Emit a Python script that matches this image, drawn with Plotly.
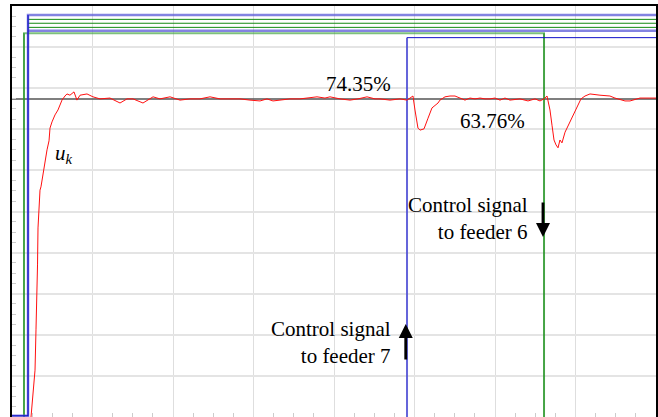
import plotly.graph_objects as go

# ---- data (time axis 0..800, signal axis 0..100) ----
t_u = [23.6, 24.8, 26.1, 27.3, 28.6, 29.8, 31.1, 31.7, 32.3, 33.5, 34.8, 36.0, 38.5, 41.0, 43.5,
       46.0, 47.2, 49.7, 53.4, 57.1, 59.6, 62.1, 65.8, 68.3, 72.0, 77.0, 80.7, 84.5, 93.2, 100.6,
       109.3, 121.7, 134.2, 142.9, 150.3, 162.7, 175.2, 183.8, 196.3, 208.7, 221.1, 233.5, 246.0,
       258.4, 270.8, 283.2, 295.6, 308.1, 316.8, 324.2, 332.9, 345.3, 357.8, 370.2, 378.9, 388.8,
       395.0, 407.4, 419.9, 429.8, 441.0, 450.9, 457.1, 469.6, 482.0, 490.7, 494.4, 498.1, 500.6,
       504.3, 506.8, 511.8, 516.8, 521.7, 529.2, 531.6, 537.9, 544.1, 550.3, 556.5, 562.7, 568.9,
       575.2, 581.4, 587.6, 593.8, 600.0, 606.2, 612.4, 618.6, 631.0, 641.0, 649.7, 655.9, 660.9,
       664.6, 668.3, 670.8, 673.3, 675.8, 678.3, 680.7, 683.2, 687.0, 693.2, 699.4, 703.1, 706.8,
       711.8, 718.0, 730.4, 742.8, 749.0, 761.5, 767.7, 780.1, 792.5, 800.0]
u_k = [0.0, 2.9, 5.4, 7.5, 11.4, 21.2, 28.5, 37.0, 46.0, 51.6, 55.2, 56.0, 58.9, 62.5, 65.0,
       67.2, 70.3, 71.8, 73.5, 74.7, 75.7, 77.1, 78.1, 78.6, 78.3, 79.1, 77.1, 78.3, 78.6, 77.9,
       77.4, 77.6, 76.4, 77.4, 77.4, 76.4, 77.9, 77.4, 77.9, 77.1, 77.4, 77.4, 77.9,
       77.4, 77.4, 77.4, 77.1, 76.9, 77.4, 76.9, 77.1, 77.4, 77.4, 77.6, 77.9, 77.6,
       77.9, 77.4, 77.1, 77.4, 77.9, 77.4, 77.4, 77.1, 77.4, 77.1, 77.6, 78.1, 74.7,
       70.3, 69.8, 70.1, 72.7, 75.2, 76.4, 77.1, 77.9, 78.1, 78.1, 77.6, 77.1, 77.6,
       77.4, 77.6, 77.4, 77.4, 77.6, 77.1, 77.6, 77.1, 77.4, 76.9, 77.4, 76.9, 77.4,
       78.1, 74.7, 71.0, 67.4, 66.2, 65.5, 67.4, 66.7, 69.3, 71.8, 74.7, 76.2, 77.4,
       78.1, 78.6, 78.3, 78.1, 77.6, 76.9, 76.9, 77.6, 77.6, 77.6]
setpoint = 77.4

# step signals of the feeders: (time, level) pairs
feeder_a_t = [0, 19.9, 19.9, 800]
feeder_a_y = [0.3, 0.3, 97.8, 97.8]
feeder_b_t = [19.9, 800]
feeder_b_y = [96.75, 96.75]
feeder_c_t = [19.9, 800]
feeder_c_y = [95.8, 95.8]
feeder_d_t = [19.9, 800]
feeder_d_y = [94.8, 94.8]
feeder_e_t = [19.9, 800]
feeder_e_y = [94.0, 94.0]
feeder6_t = [14.9, 14.9, 660.9, 660.9]
feeder6_y = [0, 93.4, 93.4, 0]
feeder7_t = [490.7, 490.7, 800]
feeder7_y = [0, 92.3, 92.3]

LB = "rgba(90,90,215,0.75)"
DB = "#1010c8"
DG = "#138a13"
LG = "rgba(70,165,70,0.7)"

fig = go.Figure()
fig.add_trace(go.Scatter(x=[0, 800], y=[setpoint, setpoint], mode="lines",
                         line=dict(color="#555555", width=1.5)))
fig.add_trace(go.Scatter(x=feeder6_t, y=feeder6_y, mode="lines", line=dict(color=LG, width=2)))
fig.add_trace(go.Scatter(x=feeder6_t[:2], y=feeder6_y[:2], mode="lines", line=dict(color=DG, width=1)))
fig.add_trace(go.Scatter(x=feeder6_t[2:], y=feeder6_y[2:], mode="lines", line=dict(color=DG, width=1)))
fig.add_trace(go.Scatter(x=feeder_b_t, y=feeder_b_y, mode="lines", line=dict(color=DG, width=1)))
fig.add_trace(go.Scatter(x=feeder_c_t, y=feeder_c_y, mode="lines", line=dict(color=DG, width=1)))
fig.add_trace(go.Scatter(x=feeder_d_t, y=feeder_d_y, mode="lines", line=dict(color=DG, width=1)))
fig.add_trace(go.Scatter(x=feeder_e_t, y=feeder_e_y, mode="lines", line=dict(color=LB, width=2.5)))
fig.add_trace(go.Scatter(x=feeder_a_t, y=feeder_a_y, mode="lines", line=dict(color=LB, width=2.5)))
fig.add_trace(go.Scatter(x=feeder_a_t[:3], y=feeder_a_y[:3], mode="lines", line=dict(color=DB, width=1.2)))
fig.add_trace(go.Scatter(x=feeder7_t, y=feeder7_y, mode="lines", line=dict(color=DB, width=1)))
fig.add_trace(go.Scatter(x=feeder7_t[:2], y=feeder7_y[:2], mode="lines", line=dict(color=LB, width=2)))
fig.add_trace(go.Scatter(x=t_u, y=u_k, mode="lines", line=dict(color="#ff1010", width=1)))

font = dict(family="Times New Roman, Liberation Serif, serif", size=21, color="black")
ann = [
    dict(x=431, y=81.0, text="74.35%", showarrow=False, font=font, xanchor="center", yanchor="middle"),
    dict(x=596.3, y=72.0, text="63.76%", showarrow=False, font=font, xanchor="center", yanchor="middle"),
    dict(x=64.6, y=64.0, text="<i>u</i><sub><i>k</i></sub>", showarrow=False, font=font,
         xanchor="center", yanchor="middle"),
    dict(x=643.5, y=48.4, text="Control signal<br>to feeder 6", showarrow=False, font=font,
         xanchor="right", yanchor="middle", align="right"),
    dict(x=473.3, y=18.2, text="Control signal<br>to feeder 7", showarrow=False, font=font,
         xanchor="right", yanchor="middle", align="right"),
    dict(x=659.6, y=43.8, ax=0, ay=-36, text="", showarrow=True, arrowhead=2, arrowsize=1,
         arrowwidth=2.8, arrowcolor="black"),
    dict(x=489.1, y=22.6, ax=0, ay=37, text="", showarrow=True, arrowhead=2, arrowsize=1,
         arrowwidth=2.8, arrowcolor="black"),
]

fig.update_layout(
    width=658, height=417,
    margin=dict(l=12, r=2, t=6, b=0),
    paper_bgcolor="white", plot_bgcolor="white",
    showlegend=False, annotations=ann,
    xaxis=dict(range=[0, 800], dtick=100, showticklabels=False, showgrid=True,
               gridcolor="#dedede", gridwidth=1, zeroline=False,
               showline=True, linecolor="black", linewidth=1.5, mirror=True,
               ticks="", minor=dict(ticks="inside", dtick=25, ticklen=4, tickcolor="#cccccc",
                                    showgrid=False)),
    yaxis=dict(range=[0, 100], dtick=10, showticklabels=False, showgrid=True,
               gridcolor="#e4e4e4", gridwidth=1.5, zeroline=False,
               showline=True, linecolor="black", linewidth=1.5, mirror=True,
               ticks="", minor=dict(ticks="inside", dtick=2.5, ticklen=4, tickcolor="#cccccc",
                                    showgrid=False)),
)

fig.write_html("out.html")
